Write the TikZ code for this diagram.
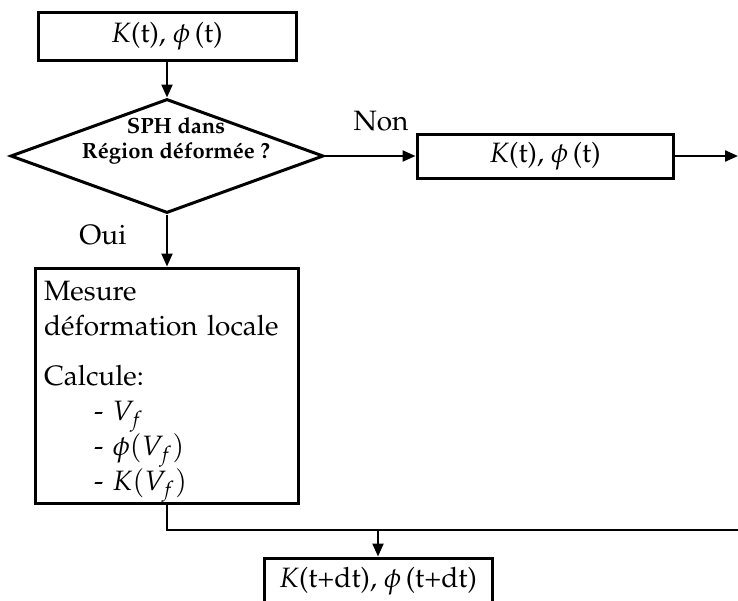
\documentclass[tikz,border=0pt]{standalone}
\usepackage[T1]{fontenc}
\usepackage{mathpazo}
\usetikzlibrary{shapes.geometric}
\usetikzlibrary{arrows.meta}
\tikzset{
    box/.style={draw, black, line width=1.5pt, inner sep=0pt, font=\fontsize{14}{17.5}\selectfont},
    decision/.style={draw, black, diamond, line width=1.5pt, inner sep=0pt, minimum width=156.5pt, minimum height=57pt},
    cond/.style={align=center, inner sep=0pt, font=\bfseries\fontsize{11}{12.5}\selectfont},
    answer/.style={inner sep=0pt, font=\fontsize{14}{17.5}\selectfont},
    link/.style={black, line width=1.1pt},
    flow/.style={link, -{Triangle[length=6.5pt,width=5.5pt]}}
}

\begin{document}
\begin{tikzpicture}[x=0.5pt, y=-0.5pt]
    \useasboundingbox (0,0) rectangle (738,600);
    \clip (0,0) rectangle (738,600);
    % Nodes
    \node[box, minimum width=129pt, minimum height=24pt] (kt) at (167,36) {$K$(t), $\phi\,$(t)};
    \node[decision] (sph) at (167,156) {};
    \node[cond] (sphtext) at (176,141) {SPH dans\\R\'egion d\'eform\'ee ?};
    \node[box, minimum width=128pt, minimum height=22pt] (ktnon) at (545,156) {$K$(t), $\phi\,$(t)};
    \node[box, minimum width=131.5pt, minimum height=117.5pt, text width=123pt, align=left] (mesure) at (167,385.5)
        {\rule{0pt}{16pt}Mesure\\
         d\'eformation locale\\[7.5pt]
         Calcule:\\
         \hspace*{25pt}- $V_f$\\
         \hspace*{25pt}- $\phi(V_f)$\\
         \hspace*{25pt}- $K(V_f)$};
    \node[box, minimum width=114pt, minimum height=23pt] (ktdt) at (378,581) {$K$(t+dt), $\phi\,$(t+dt)};
    % Labels
    \node[answer] (non) at (381,121) {Non};
    \node[answer] (oui) at (103,235) {Oui};
    % Free ends
    \coordinate (outnon) at (738,156);
    \coordinate (merge) at (378,530);
    \coordinate (outmerge) at (738,530);
    % Arrows
    \draw[flow] (kt) -- (sph);
    \draw[flow] (sph.east) -- (ktnon.west);
    \draw[flow] (ktnon.east) -- (outnon);
    \draw[flow] (sph.south) -- (mesure.north);
    \draw[link] (mesure.south) |- (outmerge);
    \draw[flow] (merge) -- (ktdt.north);
\end{tikzpicture}
\end{document}
